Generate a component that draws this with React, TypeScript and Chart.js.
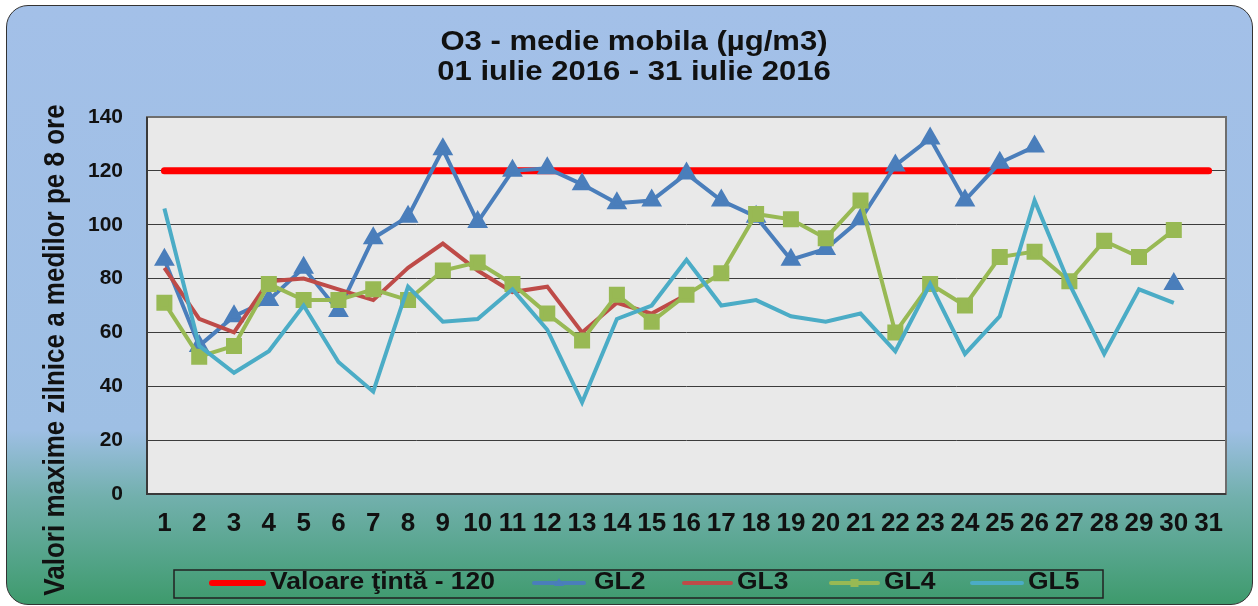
import { useEffect, useRef } from "react";
import { Chart, registerables } from "chart.js";

Chart.register(...registerables);

const days: string[] = ["1","2","3","4","5","6","7","8","9","10","11","12","13","14","15","16","17","18","19","20","21","22","23","24","25","26","27","28","29","30","31"];
const targetLabel = "Valoare ţintă - 120";
const target: number[] = [120,120,120,120,120,120,120,120,120,120,120,120,120,120,120,120,120,120,120,120,120,120,120,120,120,120,120,120,120,120,120];
const gl2: (number | null)[] = [87,55,66,72,84,68,95,103,128,101,120,121,115,108,109,119,109,103,87,91,102,122,132,109,123,129,null,null,null,78,null];
const gl3: (number | null)[] = [84,65,60,79,80,76,72,84,93,83,75,77,60,71,67,74,null,null,null,null,null,null,null,null,null,null,null,null,null,null,null];
const gl4: (number | null)[] = [71,51,55,78,72,72,76,72,83,86,78,67,57,74,64,74,82,104,102,95,109,60,78,70,88,90,79,94,88,98,null];
const gl5: (number | null)[] = [106,55,45,53,70,49,38,77,64,65,76,61,34,65,70,87,70,72,66,64,67,53,78,52,66,109,78,52,76,71,null];
const titleLines: string[] = ["O3 - medie mobila (µg/m3)", "01 iulie 2016 - 31 iulie 2016"];
const yTitle = "Valori maxime zilnice a medilor pe 8 ore";
const yTicks: number[] = [0, 20, 40, 60, 80, 100, 120, 140];

const FONT = '"Liberation Sans", Arial, sans-serif';
const SX = 1.15;

function stretchText(ctx: CanvasRenderingContext2D, text: string, x: number, y: number, align: CanvasTextAlign) {
  ctx.save();
  ctx.translate(x, y);
  ctx.scale(SX, 1);
  ctx.textAlign = align;
  ctx.textBaseline = "middle";
  ctx.fillText(text, 0, 0);
  ctx.restore();
}

const legendSlots = [
  { x0: 209, x1: 266, tx: 270 },
  { x0: 531, x1: 587, tx: 594 },
  { x0: 681, x1: 734, tx: 737 },
  { x0: 828, x1: 881, tx: 884 },
  { x0: 969, x1: 1025, tx: 1028 },
];

const decor = {
  id: "decor",
  beforeDraw(chart: any) {
    const { ctx, chartArea: a } = chart;
    ctx.save();
    ctx.fillStyle = "#e9e9e9";
    ctx.fillRect(a.left, a.top, a.right - a.left, a.bottom - a.top);
    ctx.restore();
  },
  beforeDatasetsDraw(chart: any) {
    const { ctx, chartArea: a } = chart;
    ctx.save();
    ctx.strokeStyle = "#6e6e6e";
    ctx.lineWidth = 2;
    ctx.strokeRect(a.left, a.top, a.right - a.left, a.bottom - a.top);
    ctx.strokeStyle = "#3a3a3a";
    ctx.beginPath();
    ctx.moveTo(a.left, a.top);
    ctx.lineTo(a.left, a.bottom);
    ctx.lineTo(a.right, a.bottom);
    ctx.stroke();
    ctx.restore();
  },
  afterDraw(chart: any) {
    const { ctx } = chart;
    ctx.save();
    ctx.fillStyle = "#111";
    ctx.font = `bold 27px ${FONT}`;
    stretchText(ctx, titleLines[0], 634, 43, "center");
    stretchText(ctx, titleLines[1], 634, 73, "center");

    ctx.save();
    ctx.translate(56, 350);
    ctx.scale(SX, 1);
    ctx.rotate(-Math.PI / 2);
    ctx.font = `bold 26px ${FONT}`;
    ctx.textAlign = "center";
    ctx.textBaseline = "middle";
    ctx.fillText(yTitle, 0, 0);
    ctx.restore();

    ctx.strokeStyle = "#222";
    ctx.lineWidth = 1.5;
    ctx.strokeRect(174, 570, 929, 28);
    const ds = chart.data.datasets;
    ds.forEach((d: any, i: number) => {
      const s = legendSlots[i];
      const y = 583;
      ctx.save();
      ctx.strokeStyle = d.borderColor;
      ctx.lineWidth = i === 0 ? 6 : 4;
      ctx.lineCap = "round";
      ctx.beginPath();
      ctx.moveTo(s.x0 + 3, y);
      ctx.lineTo(s.x1 - 3, y);
      ctx.stroke();
      ctx.fillStyle = d.borderColor;
      const cx = (s.x0 + s.x1) / 2;
      if (d.pointStyle === "triangle") {
        ctx.beginPath();
        ctx.moveTo(cx, y - 5);
        ctx.lineTo(cx + 5, y + 3);
        ctx.lineTo(cx - 5, y + 3);
        ctx.closePath();
        ctx.fill();
      } else if (d.pointStyle === "rect") {
        ctx.fillRect(cx - 4, y - 4, 8, 8);
      }
      ctx.restore();
      ctx.fillStyle = "#111";
      ctx.font = `bold 23px ${FONT}`;
      stretchText(ctx, d.label, s.tx, y, "left");
    });
    ctx.restore();
  },
};

export default function App() {
  const ref = useRef<HTMLCanvasElement | null>(null);
  useEffect(() => {
    document.body.style.margin = "0";
    const canvas = ref.current!;
    const chart = new Chart(canvas, {
      type: "line",
      data: {
        labels: days,
        datasets: [
          { label: targetLabel, data: target, borderColor: "#ff0000", backgroundColor: "#ff0000", borderWidth: 7, borderCapStyle: "round", pointRadius: 0, order: 5, pointStyle: false as any },
          { label: "GL2", data: gl2, borderColor: "#4a7ebb", backgroundColor: "#4a7ebb", borderWidth: 4, pointStyle: "triangle", pointRadius: 8, order: 4 },
          { label: "GL3", data: gl3, borderColor: "#be4b48", backgroundColor: "#be4b48", borderWidth: 4, pointRadius: 0, order: 3 },
          { label: "GL4", data: gl4, borderColor: "#98b954", backgroundColor: "#98b954", borderWidth: 4, pointStyle: "rect", pointRadius: 8.5, order: 2 },
          { label: "GL5", data: gl5, borderColor: "#4bacc6", backgroundColor: "#4bacc6", borderWidth: 4, pointRadius: 0, order: 1 },
        ],
      },
      options: {
        responsive: false,
        animation: false,
        layout: { padding: { top: 117, right: 32, left: 0, bottom: 0 } },
        plugins: { legend: { display: false }, title: { display: false }, tooltip: { enabled: false } },
        scales: {
          x: {
            offset: true,
            grid: { display: false, drawTicks: false, offset: true },
            border: { display: false },
            ticks: { autoSkip: false, maxRotation: 0, color: "#111", font: { family: FONT, size: 26, weight: "bold" }, padding: 14 },
            afterFit(scale: any) { scale.height = 112; },
          },
          y: {
            min: 0,
            max: 140,
            afterBuildTicks(scale: any) { scale.ticks = yTicks.map((v) => ({ value: v })); },
            grid: { color: "#3c3c3c", lineWidth: 1, drawTicks: false },
            border: { display: false },
            ticks: { color: "#111", font: { family: FONT, size: 21, weight: "bold" }, padding: 24 },
            afterFit(scale: any) { scale.width = 147; },
          },
        },
      },
      plugins: [decor],
    });
    return () => chart.destroy();
  }, []);
  return (
    <div style={{ position: "fixed", left: 0, top: 0, width: 1258, height: 606, overflow: "hidden" }}>
      <div
        style={{
          position: "absolute",
          left: 6,
          top: 5,
          width: 1245,
          height: 598,
          borderRadius: 22,
          border: "1.5px solid #333",
          background: "linear-gradient(to bottom, #a3c0e8 0%, #9ebfe4 71%, #72b0ad 82%, #4fa283 94%, #3e9a6c 100%)",
        }}
      />
      <canvas ref={ref} width={1258} height={606} style={{ position: "absolute", left: 0, top: 0 }} />
    </div>
  );
}
